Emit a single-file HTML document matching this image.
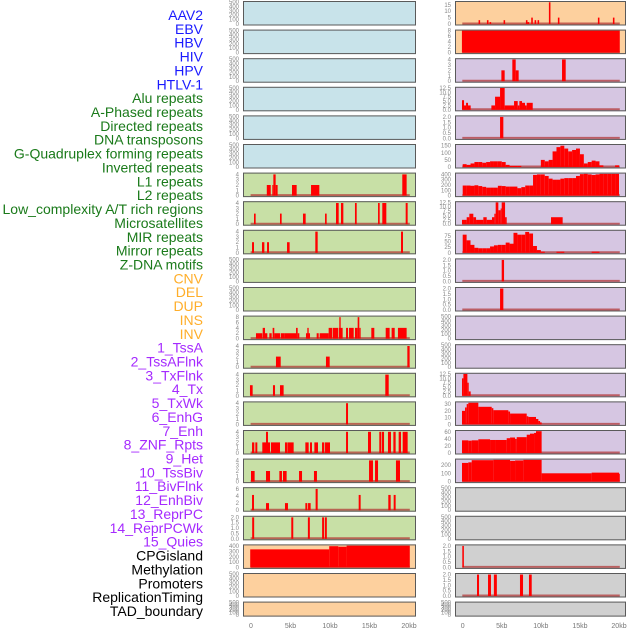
<!DOCTYPE html>
<html><head><meta charset="utf-8"><style>
html,body{margin:0;padding:0;background:#fff;}
svg{display:block;font-family:"Liberation Sans",sans-serif;}
</style></head><body>
<svg id="chart" width="630" height="630" viewBox="0 0 630 630"></svg>
<script>
// ---------- labels ----------
const labelNames = ["AAV2","EBV","HBV","HIV","HPV","HTLV-1","Alu repeats","A-Phased repeats","Directed repeats","DNA transposons","G-Quadruplex forming repeats","Inverted repeats","L1 repeats","L2 repeats","Low_complexity A/T rich regions","Microsatellites","MIR repeats","Mirror repeats","Z-DNA motifs","CNV","DEL","DUP","INS","INV","1_TssA","2_TssAFlnk","3_TxFlnk","4_Tx","5_TxWk","6_EnhG","7_Enh","8_ZNF_Rpts","9_Het","10_TssBiv","11_BivFlnk","12_EnhBiv","13_ReprPC","14_ReprPCWk","15_Quies","CPGisland","Methylation","Promoters","ReplicationTiming","TAD_boundary"];
const labelGroups = [0,0,0,0,0,0,1,1,1,1,1,1,1,1,1,1,1,1,1,2,2,2,2,2,3,3,3,3,3,3,3,3,3,3,3,3,3,3,3,4,4,4,4,4];
const groupColors = ["#1a1aff","#1a7a1a","#ffae2a","#a52aff","#000000"];
const groupBg = ["#c8e3ea","#c8e0a6","#fdd09e","#d6c6e2","#d0d0d0"];
const xTickLabels = ["0","5kb","10kb","15kb","20kb"];
const xTickValues = [0,5,10,15,20];

// ---------- tick sets ----------
const T500 = ["0","100","200","300","400","500"];
const T4 = ["0","1","2","3","4"];
const T8 = ["0","2","4","6","8"];
const T6 = ["0","2","4","6"];
const T2 = ["0.0","0.5","1.0","1.5","2.0"];
const T400 = ["0","100","200","300","400"];
const T15 = ["0","5","10","15"];
const T125 = ["0.0","2.5","5.0","7.5","10.0","12.5"];
const T150 = ["0","50","100","150"];
const T75 = ["0","25","50","75"];
const T30 = ["0","10","20","30"];
const T60 = ["0","20","40","60"];
const T200 = ["0","100","200"];

// ---------- left column data: [startKb, endKb, value] ----------
const L7 = [[2.0,2.5,2],[2.7,2.83,2],[2.83,3.12,4],[3.12,3.37,2],[5.19,5.78,2],[7.6,8.65,2],[19.15,19.7,4]];
const L8 = [[0.38,0.59,2],[3.67,3.88,2],[6.58,6.92,2],[9.37,9.58,2],[10.76,11.1,4],[11.39,11.69,4],[13.16,13.38,4],[16.08,16.29,4],[16.62,17.13,4],[19.58,19.83,4]];
const L9 = [[0.13,0.38,2],[1.39,1.69,2],[2.03,2.28,2],[4.56,4.89,2],[8.14,8.44,4],[18.99,19.24,4]];
const L12 = [[0.63,1.43,2],[1.48,1.77,4],[1.77,2.07,2],[2.32,2.62,2],[2.74,2.95,4],[2.95,3.67,2],[3.76,4.22,2],[4.22,5.7,2],[5.7,5.91,4],[5.91,6.12,2],[6.96,7.47,2],[7.13,7.3,4],[8.31,8.57,2],[8.69,9.83,2],[9.83,10.3,4],[10.38,11.05,4],[11.14,11.6,4],[11.18,11.35,8],[12.03,12.28,4],[12.41,13.0,4],[13.16,13.5,4],[13.5,13.71,8],[13.71,13.88,4],[15.23,15.61,4],[17.05,17.55,4],[17.8,18.19,4],[18.6,19.7,4]];
const L13 = [[3.16,3.76,2],[9.49,9.96,2],[19.79,20.08,4]];
const L14 = [[-0.13,0.21,2],[2.78,3.04,2],[3.67,4.13,2],[17.0,17.43,4]];
const L15 = [[12.03,12.28,4]];
const L16 = [[0.13,0.42,2],[0.55,0.8,2],[1.43,1.77,2],[1.9,2.15,4],[1.73,2.41,2],[2.53,3.67,2],[4.3,4.6,2],[4.64,5.4,2],[6.88,7.3,2],[7.47,7.72,2],[8.02,8.48,2],[8.99,9.28,2],[9.37,10.0,2],[12.03,12.28,4],[14.81,15.19,4],[16.24,16.5,4],[16.58,16.84,4],[17.34,17.72,4],[18.02,18.31,4],[18.69,18.99,4],[19.2,19.83,4]];
const L17 = [[0,0.46,2],[1.9,2.41,2],[3.59,3.92,2],[4.05,4.51,2],[6.08,6.46,2],[7.97,8.35,2],[14.94,15.44,4],[15.7,16.08,4],[18.35,18.86,4]];
const L18 = [[0.13,0.38,4.3],[1.9,2.28,2],[4.3,4.68,2],[6.88,7.13,2],[7.22,7.55,2],[8.18,8.44,6],[13.63,13.88,4.3],[17.38,17.68,4.3],[18.06,18.31,4.3]];
const L19 = [[0.15,0.4,2],[5.1,5.35,2],[7.2,7.45,2],[9.0,9.25,2],[9.35,9.6,2]];
const L20 = [[-0.1,9.9,340],[9.9,11.05,400],[11.05,12.1,390],[12.1,20.1,410]];

// ---------- right column data ----------
const R1 = [[2.03,2.23,3],[3.1,3.3,3],[3.44,3.64,1.5],[5.23,5.43,3],[8.09,8.29,3],[8.3,8.5,1.5],[8.77,8.97,5],[9.2,9.4,3],[9.58,9.78,3],[11.03,11.23,17],[12.18,12.38,5],[17.3,17.5,5],[19.22,19.42,5]];
const R2 = [[-0.1,20.1,8]];
const R3 = [[4.95,5.37,2],[6.35,6.78,4],[6.78,7.16,2],[12.71,13.18,4]];
const R4 = [[-0.09,0.17,5.5],[0.17,0.43,2.5],[0.43,0.68,4],[0.68,1.02,2.5],[3.67,4.14,2.5],[4.14,4.78,7.5],[4.78,5.37,12.5],[5.37,6.57,2.5],[6.57,7.04,5],[7.04,7.25,2.5],[7.25,7.59,5],[7.59,7.97,4],[7.97,8.19,2.5],[8.19,8.96,4]];
const R5 = [[4.78,5.2,2]];
const R6profile = [20,15,25,35,35,30,35,40,40,40,35,15,8,8,8,0,0,0,0,0,50,40,50,110,140,150,130,110,120,130,90,25,35,45,40,12,0,0,0,12];
const R7profile = [190,190,185,195,180,165,150,150,150,185,180,170,170,170,140,160,190,190,390,400,400,370,320,300,300,320,330,330,330,370,405,410,400,390,400,410,410,410,410,410];
const R8 = [[-0.09,0.51,2.5],[0.51,0.85,4],[0.85,1.36,6],[1.36,1.71,4],[1.71,2.64,2.5],[2.64,3.07,4],[3.07,3.75,2.5],[3.75,4.05,4],[4.05,4.22,6],[4.22,4.56,12.5],[4.56,4.86,8],[4.86,4.99,9],[4.99,5.42,12.5],[5.42,5.63,4],[11.3,12.79,4]];
const R9profile = [80,55,35,22,20,20,20,28,33,35,35,45,40,88,80,80,92,85,30,12,5,0,0,0,5,5,0,0,0,0,0,0,0,5,5,0,0,0,0,0];
const R10 = [[4.99,5.29,2]];
const R11 = [[4.78,5.2,2]];
const R14 = [[-0.09,0.09,10],[0.09,0.6,12.5],[0.6,0.77,7.5],[0.77,1.02,2.5]];
const R15 = [[-0.09,0.3,20],[0.3,0.51,25],[0.51,0.72,30],[0.72,2.0,32],[2.0,3.71,26],[3.71,3.92,24],[3.92,5.84,21],[5.84,6.06,19],[6.06,8.19,16],[8.19,8.4,12],[8.4,9.38,11],[9.38,9.68,8],[9.68,9.9,5],[9.9,10.1,3]];
const R16 = [[-0.09,0.72,36],[0.72,1.15,35],[1.15,2.0,36],[2.0,3.5,39],[3.5,4.14,37],[4.14,5.63,37],[5.63,6.06,42],[6.06,6.7,44],[6.7,6.91,40],[6.91,8.19,45],[8.19,8.61,52],[8.61,9.13,55],[9.13,9.38,57],[9.38,10.1,62]];
const R17 = [[-0.09,0.72,225],[0.72,1.15,232],[1.15,3.92,258],[3.92,6.06,262],[6.06,6.7,250],[6.7,7.76,255],[7.76,10.1,262],[10.1,16.5,100],[16.5,20.0,108],[20.0,20.1,95]];
const R20 = [[-0.05,0.15,2]];
const R21 = [[1.83,2.09,2],[3.24,3.62,2],[3.99,4.37,2],[7.33,7.72,2],[8.48,8.83,2]];

function prof(arr){ return arr.map((v,i)=>[i*0.5,(i+1)*0.5,v]); }

// panels: [ticks, ymax, bars]
const leftPanels = [
 [T500,500,null],[T500,500,null],[T500,500,null],[T500,500,null],[T500,500,null],[T500,500,null],
 [T4,4.15,L7],[T4,4.15,L8],[T4,4.15,L9],[T500,500,null],[T500,500,null],[T8,8.2,L12],
 [T4,4.15,L13],[T4,4.15,L14],[T4,4.15,L15],[T4,4.15,L16],[T4,4.15,L17],[T6,6.2,L18],[T2,2.05,L19],
 [T400,415,L20],[T500,500,null],[T500,500,null]
];
const rightPanels = [
 [T15,17.2,R1],[T8,8,R2],[T4,4.05,R3],[T125,12.6,R4],[T2,2.05,R5],[T150,155,prof(R6profile)],
 [T400,415,prof(R7profile)],[T125,12.6,R8],[T75,97,prof(R9profile)],[T2,2.05,R10],[T2,2.05,R11],
 [T500,500,null],[T500,500,null],[T125,12.6,R14],[T30,32.5,R15],[T60,62.5,R16],[T200,265,R17],
 [T500,500,null],[T500,500,null],[T2,2.05,R20],[T2,2.05,R21],[T500,500,null]
];

const svg = document.getElementById('chart');
const NS = "http://www.w3.org/2000/svg";
function mk(tag, attrs, parent){
  const e = document.createElementNS(NS, tag);
  for (const k in attrs) e.setAttribute(k, attrs[k]);
  (parent||svg).appendChild(e);
  return e;
}

// labels
labelNames.forEach((name,i)=>{
  const t = mk('text',{x:203,y:15+13.86*i,'text-anchor':'end','dominant-baseline':'central','font-size':'14',fill:groupColors[labelGroups[i]]});
  t.textContent = name;
  
  
});

const cols = [
  {x0:243,x1:416,d0:251,d1:409,panels:leftPanels,gOff:0},
  {x0:455,x1:626,d0:462.7,d1:619,panels:rightPanels,gOff:22}
];

cols.forEach((c,ci)=>{
  const xs = kb => c.d0 + (kb/20)*(c.d1-c.d0);
  c.panels.forEach((p,ri)=>{
    const top = 1 + 28.6*ri;
    const h = ri===21 ? 15 : 24.5;
    const bottom = top + h;
    const g = mk('g',{});
    
    
    const bg = groupBg[labelGroups[c.gOff+ri]];
    mk('rect',{x:c.x0,y:top,width:c.x1-c.x0,height:h,fill:bg},g);
    const ticks = p[0], ymax = p[1], bars = p[2];
    const innerTop = top+1, innerBot = bottom-1.5;
    const ys = v => innerBot - (v/ymax)*(innerBot-innerTop);
    if (bars){
      mk('line',{x1:xs(-0.05),x2:xs(20.1),y1:innerBot-0.5,y2:innerBot-0.5,stroke:'#b03030','stroke-width':2,'stroke-opacity':0.7},g);
      bars.forEach(b=>{
        if (b[2]<=0) return;
        const r = mk('rect',{x:xs(b[0]),y:ys(b[2]),width:Math.max(0.8,xs(b[1])-xs(b[0])),height:innerBot-ys(b[2]),fill:'#ff0000'},g);
        
        
      });
    }
    mk('rect',{x:c.x0+0.5,y:top+0.5,width:c.x1-c.x0-1,height:h-1,fill:'none',stroke:'#5a5a5a','stroke-width':1},g);
    ticks.forEach(tl=>{
      const v = parseFloat(tl);
      const t = mk('text',{x:c.x0-4,y:ys(v)+2,'text-anchor':'end','font-size':'6',fill:'#888'},g);
      t.textContent = tl;
      
      
    });
  });
  xTickValues.forEach((v,i)=>{
    const t = mk('text',{x:xs(v),y:628,'text-anchor':'middle','font-size':'7',fill:'#777'});
    t.textContent = xTickLabels[i];
    
    
  });
});
</script>
</body></html>
